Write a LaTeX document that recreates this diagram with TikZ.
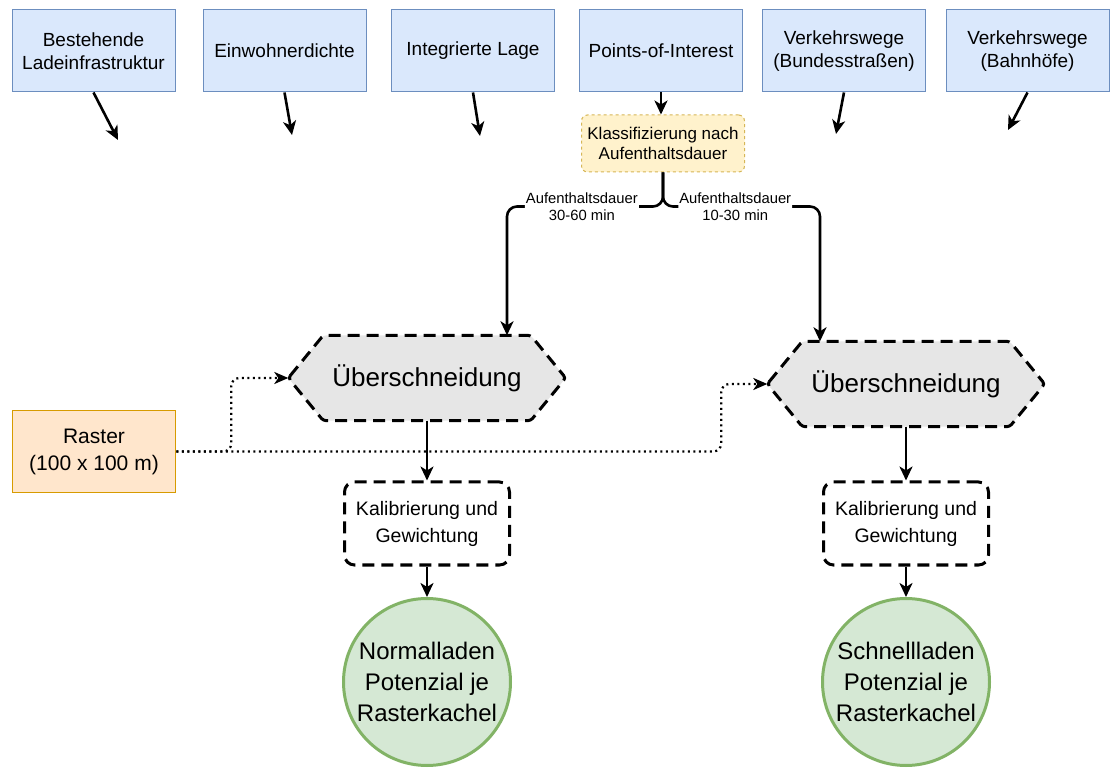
\documentclass[tikz,border=0pt]{standalone}
\usepackage{fontspec}
\setmainfont{Liberation Sans}
\usetikzlibrary{arrows.meta,backgrounds}

\definecolor{topfill}{HTML}{DAE8FC}
\definecolor{topline}{HTML}{6C8EBF}
\definecolor{klassfill}{HTML}{FFF2CC}
\definecolor{klassline}{HTML}{D6B656}
\definecolor{rasterfill}{HTML}{FFE6CC}
\definecolor{rasterline}{HTML}{D79B00}
\definecolor{hexfill}{HTML}{E6E6E6}
\definecolor{kreisfill}{HTML}{D5E8D4}
\definecolor{kreisline}{HTML}{82B366}

\tikzset{
  topbox/.style={draw=topline, fill=topfill, line width=1pt, minimum width=163pt,
    minimum height=82pt, align=center, font=\fontsize{19}{23}\selectfont},
  klassbox/.style={draw=klassline, fill=klassfill, line width=1pt, dash pattern=on 3pt off 3pt,
    rounded corners=6pt, minimum width=163pt, minimum height=57pt, align=center,
    font=\fontsize{17}{20}\selectfont},
  rasterbox/.style={draw=rasterline, fill=rasterfill, line width=1.5pt, minimum width=163pt,
    minimum height=82pt, align=center, font=\fontsize{21}{27}\selectfont},
  hexbox/.style={minimum width=277pt, minimum height=85pt, font=\fontsize{26}{30}\selectfont},
  hexline/.style={draw=black, fill=hexfill, line width=3pt, dash pattern=on 12pt off 7pt,
    rounded corners=3pt},
  kalbox/.style={draw, fill=white, line width=3pt, dash pattern=on 12pt off 7pt,
    rounded corners=10pt, minimum width=165pt, minimum height=83pt, align=center,
    font=\fontsize{19.5}{27}\selectfont},
  potkreis/.style={circle, draw=kreisline, fill=kreisfill, line width=3pt, minimum size=167pt,
    inner sep=0pt, align=center, font=\fontsize{24}{31}\selectfont},
  pfeil/.style={line width=2.6pt, -{Stealth[length=14pt,width=13pt,inset=4pt]}},
  punkt/.style={line width=2.2pt, dash pattern=on 2pt off 3.5pt, rounded corners=8pt,
    -{Stealth[length=14pt,width=12pt,inset=4pt]}},
  dauer/.style={fill=white, inner sep=1pt, align=center, font=\fontsize{14.8}{17}\selectfont}
}

\begin{document}
\begin{tikzpicture}[x=1pt,y=-1pt]
\useasboundingbox (0,0) rectangle (1112,775);

% Eingangsdaten
\node[topbox] (b1) at (93.5,51) {Bestehende\\Ladeinfrastruktur};
\node[topbox] (b2) at (284.5,51) {Einwohnerdichte};
\node[topbox] (b3) at (473,51) {Integrierte Lage};
\node[topbox] (b4) at (661,51) {Points-of-Interest};
\node[topbox] (b5) at (844,51) {Verkehrswege\\(Bundesstraßen)};
\node[topbox] (b6) at (1027.5,51) {Verkehrswege\\(Bahnhöfe)};

\coordinate (e1) at (118,140);
\coordinate (e2) at (292,135);
\coordinate (e3) at (480,136);
\coordinate (e5) at (836,134);
\coordinate (e6) at (1008,130);
\draw[pfeil] (b1.south) -- (e1);
\draw[pfeil] (b2.south) -- (e2);
\draw[pfeil] (b3.south) -- (e3);
\draw[pfeil] (b5.south) -- (e5);
\draw[pfeil] (b6.south) -- (e6);

\node[klassbox] (klass) at (663,143.5) {Klassifizierung nach\\Aufenthaltsdauer};
\draw[pfeil] (b4.south) -- (b4.south |- klass.north);

% Raster und Ueberschneidung
\node[rasterbox] (raster) at (94,451.5) {Raster\\(100 x 100 m)};
\node[hexbox] (hexL) at (427,378) {Überschneidung};
\node[hexbox] (hexR) at (906,384) {Überschneidung};
\begin{scope}[on background layer]
\foreach \h in {hexL,hexR}
  \draw[hexline] (\h.west) -- ([xshift=35pt]\h.north west) -- ([xshift=-35pt]\h.north east)
    -- (\h.east) -- ([xshift=-35pt]\h.south east) -- ([xshift=35pt]\h.south west) -- cycle;
\end{scope}

\draw[pfeil, rounded corners=10pt] (klass.south) -- ++(0,34) -| node[dauer, pos=0.26] {Aufenthaltsdauer\\30-60 min} ([xshift=80pt]hexL.north);
\draw[pfeil, rounded corners=10pt] (klass.south) -- ++(0,34) -| node[dauer, pos=0.23] {Aufenthaltsdauer\\10-30 min} ([xshift=-86pt]hexR.north);

\draw[punkt] (raster.east) -- ++(55,0) |- (hexL.west);
\draw[punkt] (raster.east) -- ++(545,0) |- (hexR.west);

% Kalibrierung und Ergebnis
\node[kalbox] (kalL) at (427,523.5) {Kalibrierung und\\Gewichtung};
\node[kalbox] (kalR) at (906,523.5) {Kalibrierung und\\Gewichtung};
\node[potkreis] (potL) at (427,682) {Normalladen\\Potenzial je\\Rasterkachel};
\node[potkreis] (potR) at (906,682) {Schnellladen\\Potenzial je\\Rasterkachel};

\draw[pfeil] (hexL) -- (kalL);
\draw[pfeil] (hexR) -- (kalR);
\draw[pfeil] (kalL) -- (potL);
\draw[pfeil] (kalR) -- (potR);
\end{tikzpicture}
\end{document}
